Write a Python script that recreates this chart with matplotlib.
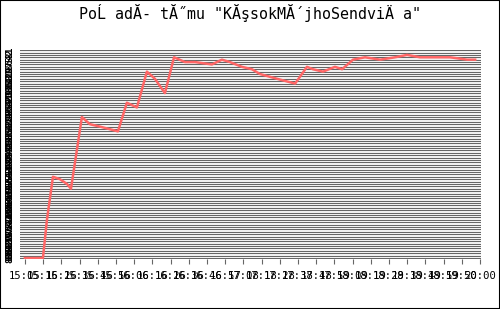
import matplotlib
matplotlib.use("Agg")
import matplotlib.pyplot as plt
from matplotlib.patches import Rectangle

title = "PoĹ adĂ- tĂ˝mu \"KĂşsokMĂ´jhoSendviÄ a\""

# x positions in tick units (tick index), ranks
time_idx = [0.00, 0.99, 1.21, 1.43, 1.54, 1.92, 2.31, 2.53, 2.75, 3.13, 3.57, 4.12,
            5.11, 5.60, 6.15, 6.70, 7.14, 7.69, 8.19, 8.79, 9.34, 10.27, 10.82,
            11.26, 11.92, 12.47, 12.91, 13.85, 14.84, 15.49, 15.82, 16.37, 17.03,
            17.42, 18.02, 18.68, 19.51, 20.33, 20.99, 21.70, 22.42, 23.35, 24.29, 24.73]
rank = [88, 88, 72, 60, 54, 55, 57, 59, 48, 29, 32, 33,
        35, 23, 25, 10, 13, 19, 4, 6, 6, 7, 5,
        6, 8, 9, 11, 13, 15, 8, 9, 10, 8,
        9, 5, 4, 5, 4, 3, 4, 4, 4, 5, 5]

tick_labels = ["15:05", "15:16", "15:26", "15:36", "15:46", "15:56", "16:06", "16:16",
               "16:26", "16:36", "16:46", "16:57", "17:08", "17:18", "17:28", "17:38",
               "17:48", "17:59", "18:09", "18:19", "18:29", "18:39", "18:49", "18:59",
               "19:50", "20:00"]
n_teams = 88
rank_ticks = list(range(1, n_teams + 1))

fig = plt.figure(figsize=(5.0, 3.09), dpi=100)
fig.patch.set_facecolor("white")
ax = fig.add_axes([20 / 500, 1 - 259 / 309, 461 / 500, 209 / 309])
ax.set_facecolor("#f0f0f0")

for r in rank_ticks:
    ax.axhline(r, color="#666666", lw=0.72, zorder=1, antialiased=False)

ax.plot(time_idx, rank, color="#ff6666", lw=1.8, zorder=3)

ax.set_xlim(-0.27, 25.05)
ax.set_ylim(n_teams + 0.4, 0.95)

ax.set_xticks(range(len(tick_labels)))
ax.set_xticklabels(tick_labels, family="DejaVu Sans Mono", fontsize=7.6, color="black")
ax.tick_params(axis="x", length=3.5, color="#666666", width=0.8, pad=5)

ax.set_yticks(rank_ticks)
ax.set_yticklabels([str(r) for r in rank_ticks], family="DejaVu Sans Mono",
                   fontsize=6.5, fontweight="bold", rotation=90, va="center",
                   color="black")
ax.tick_params(axis="y", length=0, pad=4)

for s in ax.spines.values():
    s.set_visible(False)

fig.text(0.5, 1 - 13 / 309, title, ha="center", va="center",
         family="DejaVu Sans Mono", fontsize=10.8, color="black")

fig.patches.append(Rectangle((0, 0), 1, 1, transform=fig.transFigure, fill=False,
                             edgecolor="black", lw=1.5, zorder=10))

fig.savefig("out.png", dpi=100)
